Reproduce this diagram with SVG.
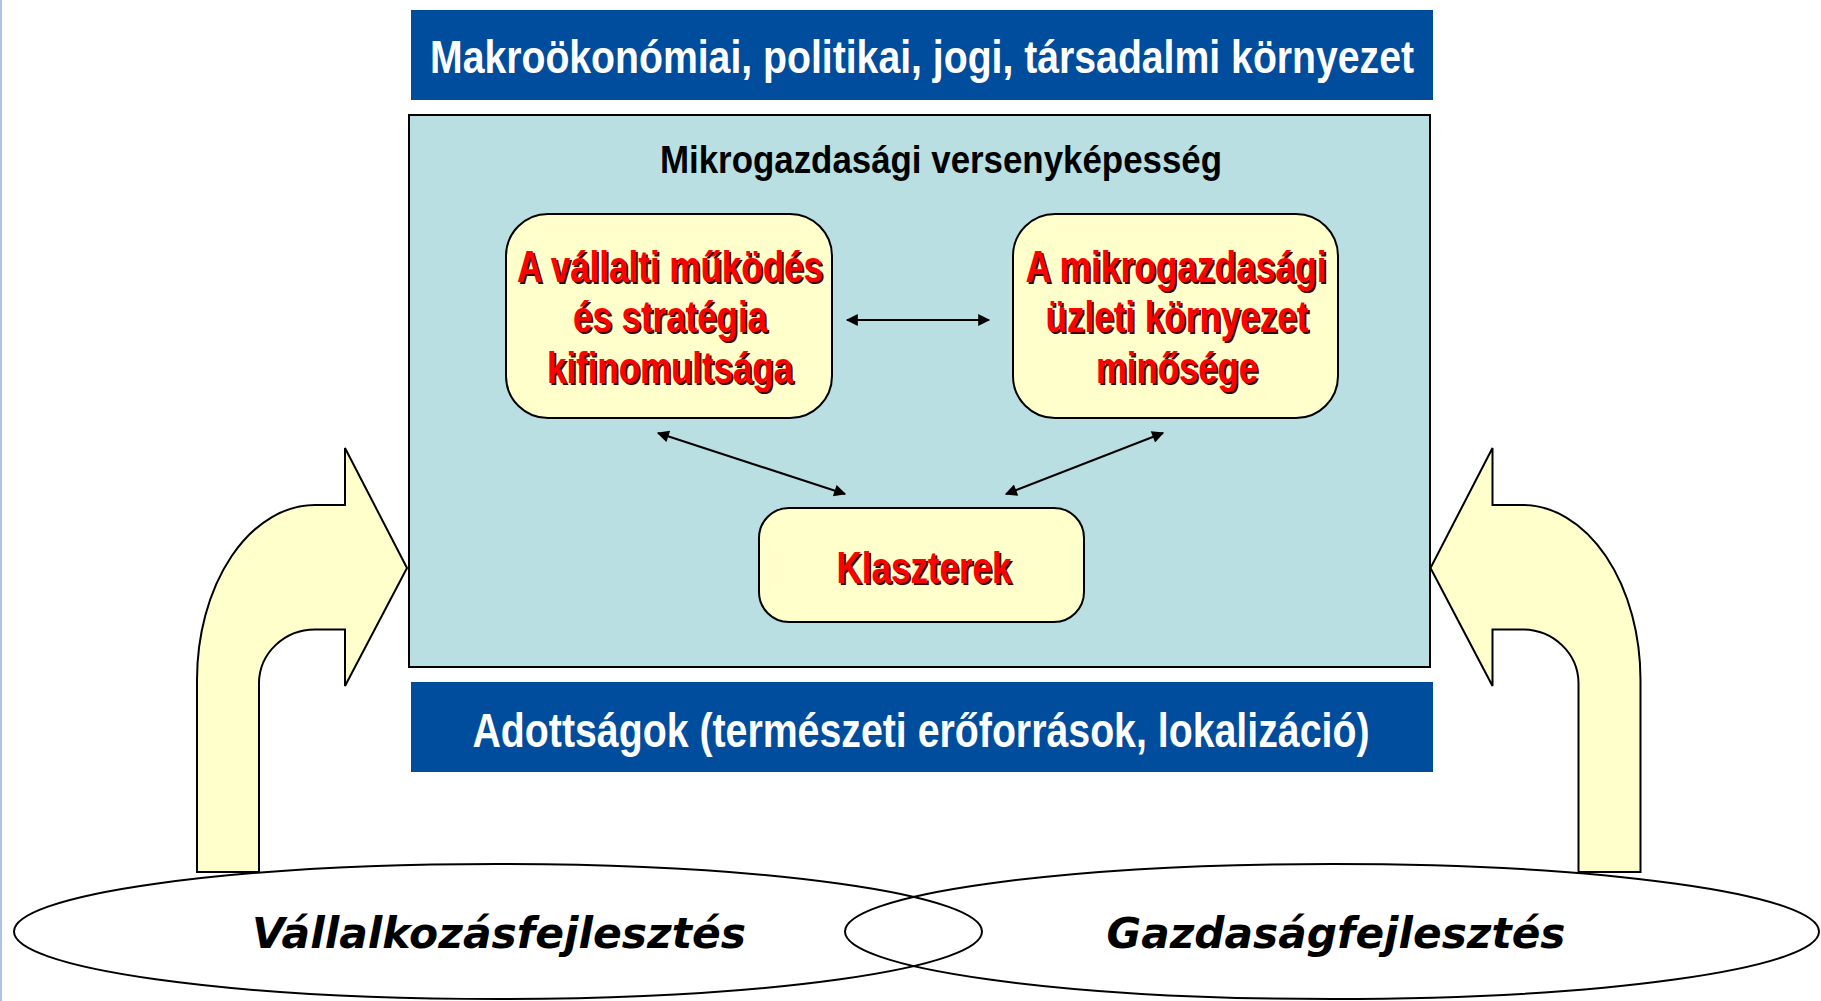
<svg xmlns="http://www.w3.org/2000/svg" width="1821" height="1001" viewBox="0 0 1821 1001">
<style>
.bar{fill:#004C9D}
.bartxt{font-family:"Liberation Sans Narrow","Liberation Sans",Arial,sans-serif;font-weight:bold;fill:#FFFFFF;text-anchor:middle}
.panel{fill:#B9DFE2;stroke:#000;stroke-width:2}
.title{font-family:"Liberation Sans Narrow","Liberation Sans",Arial,sans-serif;font-weight:bold;fill:#000;text-anchor:middle;font-size:38px}
.box{fill:#FFFFCC;stroke:#000;stroke-width:2}
.red{font-family:"Liberation Sans Narrow","Liberation Sans",Arial,sans-serif;font-weight:bold;font-size:44px;text-anchor:middle;fill:#FF0000}
.shadow{font-family:"Liberation Sans Narrow","Liberation Sans",Arial,sans-serif;font-weight:bold;font-size:44px;text-anchor:middle;fill:#3A0000}
.bent{fill:#FFFFCC;stroke:#000;stroke-width:2;stroke-linejoin:miter}
.ell{fill:none;stroke:#000;stroke-width:2}
.elltxt{font-family:"DejaVu Sans",Verdana,sans-serif;font-weight:bold;font-style:italic;font-size:42px;text-anchor:middle;fill:#000}
.conn{stroke:#000;stroke-width:2;fill:none;marker-start:url(#ah);marker-end:url(#ah)}
</style>
<defs>
<marker id="ah" viewBox="0 0 10 10" refX="9" refY="5" markerWidth="7" markerHeight="6" markerUnits="strokeWidth" orient="auto-start-reverse">
<path d="M0,0 L10,5 L0,10 Z" fill="#000"/>
</marker>
</defs>
<rect x="0" y="0" width="2" height="1001" fill="#A9C5E5"/>

<g id="ellipse-vallalkozas">
<ellipse class="ell" cx="498" cy="931.5" rx="484" ry="67.5"/>
<text class="elltxt" x="499" y="948" textLength="494" lengthAdjust="spacingAndGlyphs">Vállalkozásfejlesztés</text>
</g>
<g id="ellipse-gazdasag">
<ellipse class="ell" cx="1332" cy="931.5" rx="487" ry="67.5"/>
<text class="elltxt" x="1336" y="948" textLength="459" lengthAdjust="spacingAndGlyphs">Gazdaságfejlesztés</text>
</g>

<g id="arrow-left">
<path class="bent" d="M197,872 L197,680 A118,175 0 0 1 315,505 L345,505 L345,448 L407,568 L345,686 L345,629.5 L315,629.5 A56,54 0 0 0 259,683 L259,872 Z"/>
</g>
<g id="arrow-right">
<path class="bent" d="M1640.5,872 L1640.5,680 A118,175 0 0 0 1522.5,505 L1492.5,505 L1492.5,448 L1430.5,568 L1492.5,686 L1492.5,629.5 L1522.5,629.5 A56,54 0 0 1 1578.5,683 L1578.5,872 Z"/>
</g>

<g id="macro-bar">
<rect class="bar" x="411" y="10" width="1022" height="90"/>
<text class="bartxt" x="922" y="73" font-size="47" textLength="984" lengthAdjust="spacingAndGlyphs">Makroökonómiai, politikai, jogi, társadalmi környezet</text>
</g>

<g id="micro-panel">
<rect class="panel" x="409" y="115" width="1021" height="552"/>
<text class="title" x="941" y="173" textLength="562" lengthAdjust="spacingAndGlyphs">Mikrogazdasági versenyképesség</text>
</g>

<g id="box-vallalati">
<rect class="box" x="506" y="214" width="326" height="204" rx="42" ry="42"/>
<text class="shadow" x="672" y="284" textLength="306" lengthAdjust="spacingAndGlyphs">A vállalti működés</text>
<text class="red" x="670" y="282" textLength="306" lengthAdjust="spacingAndGlyphs">A vállalti működés</text>
<text class="shadow" x="672" y="334" textLength="194" lengthAdjust="spacingAndGlyphs">és stratégia</text>
<text class="red" x="670" y="332" textLength="194" lengthAdjust="spacingAndGlyphs">és stratégia</text>
<text class="shadow" x="672" y="385" textLength="246" lengthAdjust="spacingAndGlyphs">kifinomultsága</text>
<text class="red" x="670" y="383" textLength="246" lengthAdjust="spacingAndGlyphs">kifinomultsága</text>
</g>

<g id="box-mikro">
<rect class="box" x="1013" y="214" width="325" height="204" rx="42" ry="42"/>
<text class="shadow" x="1178" y="284" textLength="301" lengthAdjust="spacingAndGlyphs">A mikrogazdasági</text>
<text class="red" x="1176" y="282" textLength="301" lengthAdjust="spacingAndGlyphs">A mikrogazdasági</text>
<text class="shadow" x="1179" y="334" textLength="263" lengthAdjust="spacingAndGlyphs">üzleti környezet</text>
<text class="red" x="1177" y="332" textLength="263" lengthAdjust="spacingAndGlyphs">üzleti környezet</text>
<text class="shadow" x="1179" y="385" textLength="162" lengthAdjust="spacingAndGlyphs">minősége</text>
<text class="red" x="1177" y="383" textLength="162" lengthAdjust="spacingAndGlyphs">minősége</text>
</g>

<g id="box-klaszterek">
<rect class="box" x="759" y="508" width="325" height="114" rx="30" ry="30"/>
<text class="shadow" x="926" y="585" textLength="175" lengthAdjust="spacingAndGlyphs">Klaszterek</text>
<text class="red" x="924" y="583" textLength="175" lengthAdjust="spacingAndGlyphs">Klaszterek</text>
</g>

<g id="adottsagok-bar">
<rect class="bar" x="411" y="682" width="1022" height="90"/>
<text class="bartxt" x="921" y="747" font-size="48" textLength="897" lengthAdjust="spacingAndGlyphs">Adottságok (természeti erőforrások, lokalizáció)</text>
</g>

<g id="connectors">
<line class="conn" x1="847" y1="320" x2="989" y2="320"/>
<line class="conn" x1="658" y1="433" x2="845" y2="494"/>
<line class="conn" x1="1163" y1="433" x2="1006" y2="494"/>
</g>
</svg>
